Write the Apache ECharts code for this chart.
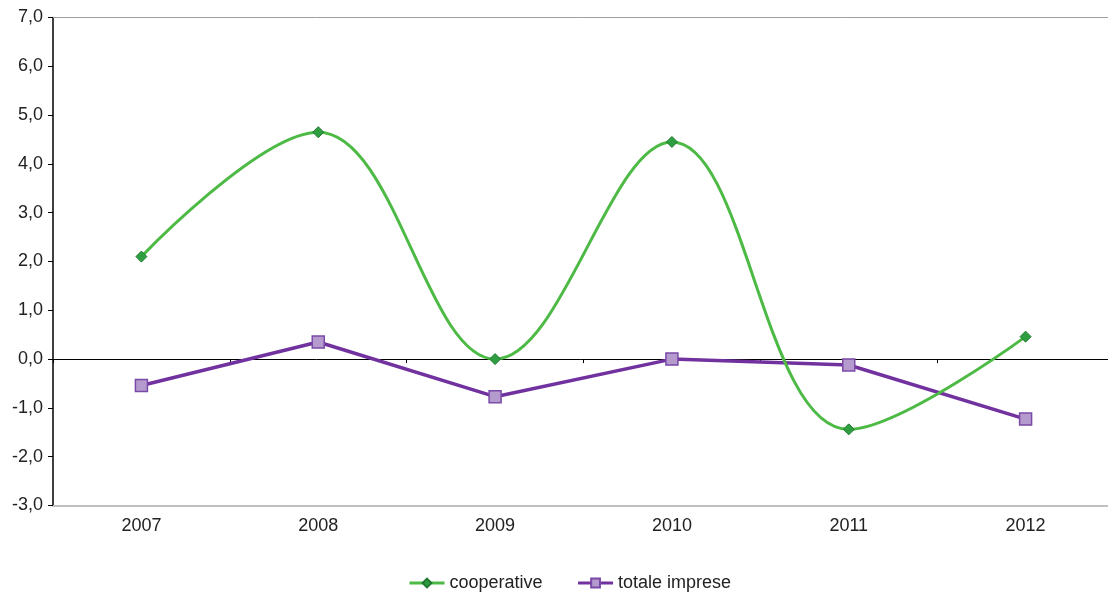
<!DOCTYPE html>
<html>
<head>
<meta charset="utf-8">
<script src="https://cdn.jsdelivr.net/npm/echarts@6/dist/echarts.min.js"></script>
<style>
  html, body { margin: 0; padding: 0; background: #fff; }
  #chart { width: 1108px; height: 594px; }
</style>
</head>
<body>
<div id="chart"></div>
<script>
// Annual variation (%) — cooperatives vs all enterprises
const years = ['2007', '2008', '2009', '2010', '2011', '2012'];
const cooperative = [2.1, 4.65, 0.0, 4.45, -1.44, 0.46];
const totaleImprese = [-0.54, 0.35, -0.77, 0.0, -0.12, -1.23];
const yTicks = { min: -3, max: 7, step: 1 };

const fmt = v => v.toFixed(1).replace('.', ',');
const font = 'Liberation Sans, Arial, sans-serif';

const chart = echarts.init(document.getElementById('chart'));
chart.setOption({
  animation: false,
  grid: {
    left: 53, width: 1061, top: 17.5, bottom: 88.5,
    containLabel: false, outerBoundsMode: 'none'
  },
  legend: {
    top: 569,
    left: 403,
    itemGap: 34,
    itemWidth: 35,
    itemHeight: 11,
    lineStyle: { width: 3 },
    textStyle: { fontFamily: font, fontSize: 18, color: '#222' },
    data: ['cooperative', 'totale imprese']
  },
  xAxis: [
    {
      type: 'category',
      data: years,
      position: 'bottom',
      axisLine: { onZero: false, lineStyle: { color: '#c0c0c0', width: 2 } },
      axisTick: { show: false },
      axisLabel: { fontFamily: font, fontSize: 18, color: '#222', margin: 12 },
      splitLine: { show: false }
    },
    {
      type: 'category',
      data: years,
      position: 'top',
      axisLine: { onZero: false, lineStyle: { color: '#a0a0a0', width: 1 } },
      axisTick: { show: false },
      axisLabel: { show: false }
    },
    {
      type: 'category',
      data: years,
      position: 'bottom',
      axisLine: { onZero: true, lineStyle: { color: '#000', width: 1 } },
      axisTick: { show: true, length: 4, lineStyle: { color: '#000' } },
      axisLabel: { show: false }
    }
  ],
  yAxis: {
    type: 'value',
    min: yTicks.min,
    max: yTicks.max,
    interval: yTicks.step,
    axisLine: { show: true, lineStyle: { color: '#000', width: 1.5 } },
    axisTick: { show: true, length: 5, lineStyle: { color: '#000' } },
    axisLabel: { fontFamily: font, fontSize: 18, color: '#222', margin: 10, formatter: fmt },
    splitLine: { show: false }
  },
  series: [
    {
      name: 'cooperative',
      type: 'line',
      data: cooperative,
      smooth: 0.38,
      symbol: 'diamond',
      symbolSize: 11,
      lineStyle: { color: '#4dba45', width: 3 },
      itemStyle: { color: '#2f9e40', borderColor: '#1f7a30', borderWidth: 1 },
      z: 3
    },
    {
      name: 'totale imprese',
      type: 'line',
      data: totaleImprese,
      symbol: 'rect',
      symbolSize: 12,
      lineStyle: { color: '#7132a0', width: 3.5 },
      itemStyle: { color: '#b49acd', borderColor: '#7a4aa8', borderWidth: 1.5 },
      z: 2
    }
  ]
});
</script>
</body>
</html>
